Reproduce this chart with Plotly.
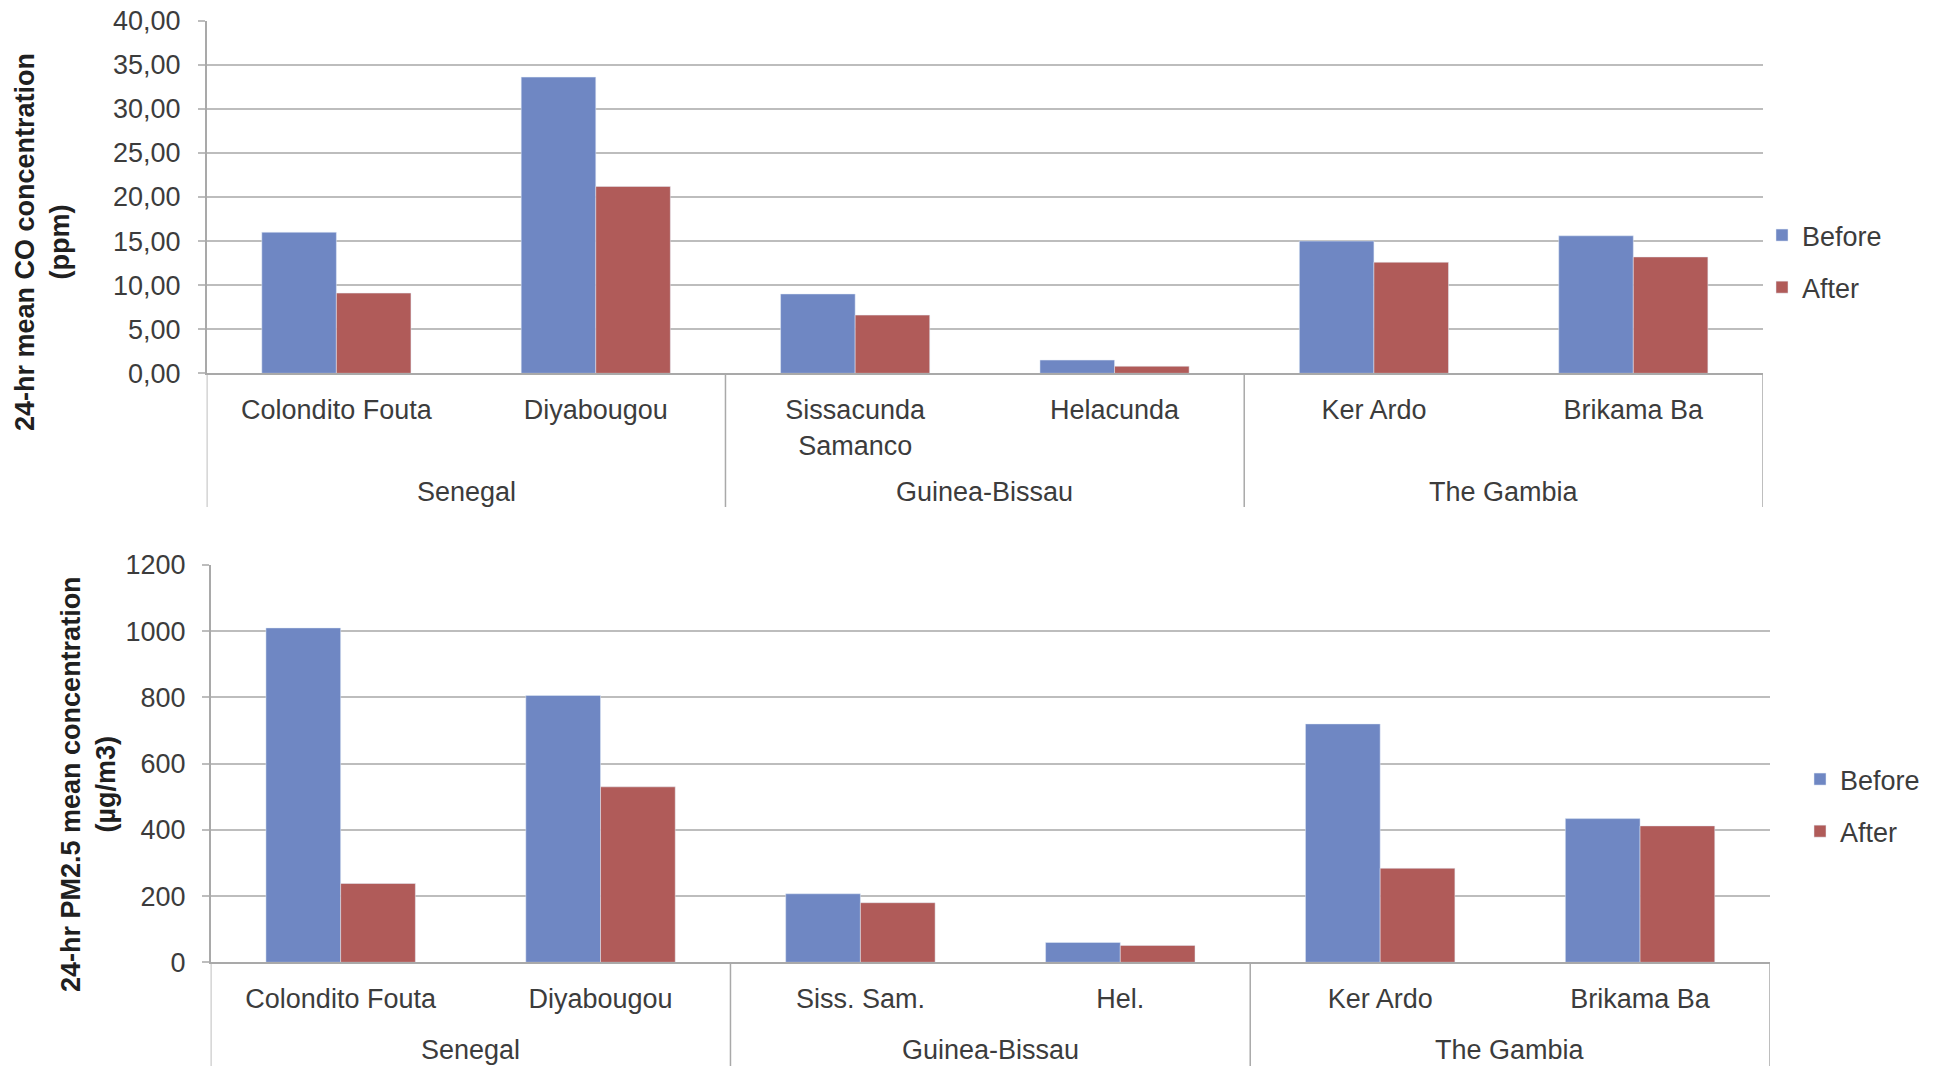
import plotly.graph_objects as go

# Sites (grouped by country) and 24-hr mean concentrations before/after
co_sites = ["Colondito Fouta", "Diyabougou", "Sissacunda<br>Samanco",
            "Helacunda", "Ker Ardo", "Brikama Ba"]
pm_sites = ["Colondito Fouta", "Diyabougou", "Siss. Sam.",
            "Hel.", "Ker Ardo", "Brikama Ba"]
countries = ["Senegal", "Guinea-Bissau", "The Gambia"]

co_before = [16.0, 33.6, 9.0, 1.5, 15.0, 15.6]
co_after = [9.1, 21.2, 6.6, 0.8, 12.6, 13.2]

pm_before = [1010, 806, 207, 60, 720, 434]
pm_after = [238, 530, 180, 51, 284, 412]

co_ticks = [0, 5, 10, 15, 20, 25, 30, 35, 40]
pm_ticks = [0, 200, 400, 600, 800, 1000, 1200]

BLUE = "#6f87c3"
RED = "#b05b59"
GRID = "#bdbdbd"
AXIS = "#a9a9a9"
TXT = "#3c3c3c"
FONT = "Liberation Sans, Arial, sans-serif"
FS = 27

W, H = 1939, 1066


def px_x(v):
    return v / W


def px_y(v):
    return 1 - v / H


fig = go.Figure()

fig.add_trace(go.Bar(x=co_sites, y=co_before, name="Before", marker_color=BLUE,
                     xaxis="x", yaxis="y", legend="legend", legendgroup="b1"))
fig.add_trace(go.Bar(x=co_sites, y=co_after, name="After", marker_color=RED,
                     xaxis="x", yaxis="y", legend="legend", legendgroup="a1"))
fig.add_trace(go.Bar(x=pm_sites, y=pm_before, name="Before", marker_color=BLUE,
                     xaxis="x2", yaxis="y2", legend="legend2", legendgroup="b2"))
fig.add_trace(go.Bar(x=pm_sites, y=pm_after, name="After", marker_color=RED,
                     xaxis="x2", yaxis="y2", legend="legend2", legendgroup="a2"))

tick_font = dict(family=FONT, size=FS, color=TXT)

xcommon = dict(type="category", range=[-0.5, 5.5], showgrid=False, zeroline=False,
               showline=True, linecolor=AXIS, linewidth=1.5, ticks="",
               tickfont=tick_font, ticklabelstandoff=12, fixedrange=True,
               automargin=False)
ycommon = dict(showgrid=True, gridcolor=GRID, gridwidth=2, zeroline=False,
               showline=True, linecolor=AXIS, linewidth=1.5, ticks="outside",
               ticklen=7, tickcolor=GRID, tickwidth=2, tickfont=tick_font,
               fixedrange=True, automargin=False)

fig.update_layout(
    width=W, height=H,
    margin=dict(l=0, r=0, t=0, b=0, autoexpand=False),
    paper_bgcolor="white", plot_bgcolor="white",
    separators=",.",
    barmode="group", bargap=0.425, bargroupgap=0,
    font=dict(family=FONT, color=TXT),
    xaxis=dict(xcommon, domain=[px_x(206.7), px_x(1763)], anchor="y",
               tickmode="array", tickvals=co_sites, ticktext=co_sites),
    yaxis=dict(ycommon, domain=[px_y(373.3), px_y(20.7)], anchor="x",
               range=[0, 40], tickmode="array", tickvals=co_ticks,
               tickformat=".2f", ticklabelstandoff=12),
    xaxis2=dict(xcommon, domain=[px_x(210.7), px_x(1770)], anchor="y2",
                tickmode="array", tickvals=pm_sites, ticktext=pm_sites),
    yaxis2=dict(ycommon, domain=[px_y(962.3), px_y(565)], anchor="x2",
                range=[0, 1200], tickmode="array", tickvals=pm_ticks,
                tickformat="d", ticklabelstandoff=11),
    legend=dict(x=px_x(1762), xanchor="left", y=px_y(211), yanchor="top",
                font=dict(family=FONT, size=FS, color=TXT),
                tracegroupgap=14, bgcolor="rgba(0,0,0,0)"),
    legend2=dict(x=px_x(1800), xanchor="left", y=px_y(755), yanchor="top",
                 font=dict(family=FONT, size=FS, color=TXT),
                 tracegroupgap=14, bgcolor="rgba(0,0,0,0)"),
)

# Y-axis titles
fig.add_annotation(text="<b>24-hr mean CO concentration<br>(ppm)</b>",
                   xref="paper", yref="paper", x=px_x(43), y=px_y(242),
                   xanchor="center", yanchor="middle", textangle=-90,
                   showarrow=False, font=dict(family=FONT, size=FS, color="#202020"))
fig.add_annotation(text="<b>24-hr PM2.5 mean concentration<br>(µg/m3)</b>",
                   xref="paper", yref="paper", x=px_x(88), y=px_y(784),
                   xanchor="center", yanchor="middle", textangle=-90,
                   showarrow=False, font=dict(family=FONT, size=FS, color="#202020"))

# Country group labels and dividers below each category axis
for xref, label_y, div_top, div_bottom in [("x", 492, 373.3, 507),
                                           ("x2", 1050, 962.3, 1066)]:
    for i, c in enumerate(countries):
        fig.add_annotation(text=c, xref=xref, yref="paper", x=2 * i + 0.5,
                           y=px_y(label_y), xanchor="center", yanchor="middle",
                           showarrow=False, font=tick_font)
    for b in [-0.5, 1.5, 3.5, 5.5]:
        fig.add_shape(type="line", xref=xref, yref="paper", x0=b, x1=b,
                      y0=px_y(div_top), y1=px_y(div_bottom),
                      line=dict(color=AXIS, width=1.5))

fig.write_html("out.html")
